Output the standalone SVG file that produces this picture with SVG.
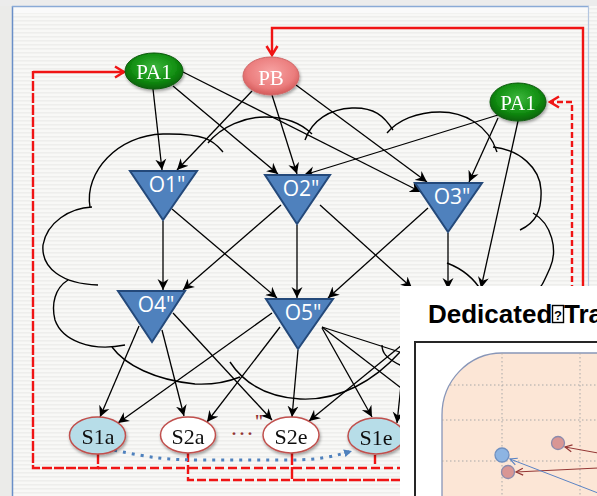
<svg xmlns="http://www.w3.org/2000/svg" width="597" height="496" viewBox="0 0 597 496">
<defs>
<style>
.lbl{font-family:"Liberation Serif","Times New Roman",serif;text-anchor:middle}
.olbl{font-family:"Open Sans","Liberation Sans",sans-serif;font-size:21px;fill:#fff;text-anchor:middle}
.tri{fill:#4f81bd;stroke:#24497a;stroke-width:2;stroke-linejoin:miter}
.snode{stroke:#c0504d;stroke-width:1.5}
.edge{fill:none;stroke:#000;stroke-width:1.3;marker-end:url(#ah)}
.cloud{fill:none;stroke:#000;stroke-width:1.4}
.red{fill:none;stroke:#f01414;stroke-width:2.4}
.grid{stroke:#a8a8a8;stroke-width:1;stroke-dasharray:1.5 2.5}
</style>
<pattern id="stripes" width="4" height="4" patternUnits="userSpaceOnUse">
<rect width="4" height="4" fill="#f8f8f6"/>
<rect width="4" height="1.6" fill="#eeeeec"/>
</pattern>
<radialGradient id="gGreen" cx="50%" cy="40%" r="60%">
<stop offset="0" stop-color="#3db53d"/>
<stop offset="0.6" stop-color="#149214"/>
<stop offset="1" stop-color="#056205"/>
</radialGradient>
<radialGradient id="gPink" cx="50%" cy="40%" r="60%">
<stop offset="0" stop-color="#f7a3a3"/>
<stop offset="0.7" stop-color="#eb7d7d"/>
<stop offset="1" stop-color="#d45a5a"/>
</radialGradient>
<filter id="sh" x="-30%" y="-30%" width="160%" height="170%">
<feDropShadow dx="1" dy="2" stdDeviation="1.5" flood-color="#000" flood-opacity="0.35"/>
</filter>
<marker id="ah" viewBox="0 -6 12 12" refX="11" refY="0" markerWidth="12" markerHeight="12" markerUnits="userSpaceOnUse" orient="auto">
<path d="M0,-5.5 L11,0 L0,5.5 L3.5,0 Z" fill="#000"/>
</marker>
<marker id="rah" viewBox="0 -7 12 14" refX="10" refY="0" markerWidth="12" markerHeight="14" markerUnits="userSpaceOnUse" orient="auto">
<path d="M1,-5.5 L10,0 L1,5.5" fill="none" stroke="#f01414" stroke-width="2.5"/>
</marker>
<marker id="bah" viewBox="0 -5 10 10" refX="8" refY="0" markerWidth="10" markerHeight="10" markerUnits="userSpaceOnUse" orient="auto">
<path d="M0,-4 L8,0 L0,4 Z" fill="#4f81bd"/>
</marker>
<marker id="drah" viewBox="0 -5 10 10" refX="8" refY="0" markerWidth="10" markerHeight="10" markerUnits="userSpaceOnUse" orient="auto">
<path d="M1,-3.5 L8,0 L1,3.5" fill="none" stroke="#943634" stroke-width="1.2"/>
</marker>
<marker id="sbah" viewBox="0 -5 10 10" refX="8" refY="0" markerWidth="10" markerHeight="10" markerUnits="userSpaceOnUse" orient="auto">
<path d="M1,-3.5 L8,0 L1,3.5" fill="none" stroke="#5b84c4" stroke-width="1.2"/>
</marker>
<clipPath id="peachClip">
<path d="M442,500 L442,415 A60,62 0 0 1 502,353 L600,353 L600,500 Z"/>
</clipPath>
</defs>

<!-- background -->
<rect width="597" height="496" fill="url(#stripes)"/>
<rect x="0" y="0" width="12" height="496" fill="#ebebe9"/>
<rect x="0" y="0" width="597" height="6" fill="#ececec"/>
<rect x="13" y="7" width="575" height="6" fill="#fafafa"/>
<line x1="12.5" y1="6" x2="12.5" y2="496" stroke="#6a8fc8" stroke-width="1.5"/>
<line x1="12" y1="6.5" x2="589" y2="6.5" stroke="#8aaad6" stroke-width="1.3"/>
<line x1="588.5" y1="6" x2="588.5" y2="496" stroke="#b4c6e0" stroke-width="1.2"/>

<!-- cloud -->
<g id="cloud">
<path class="cloud" d="M90,207 C84,172 118,135 163,134 S214,142 223,152"/>
<path class="cloud" d="M208,143 C222,126 245,117 265,117 S300,122 312,134"/>
<path class="cloud" d="M305,140 C312,120 330,109 352,108 S384,116 393,130"/>
<path class="cloud" d="M387,133 C398,120 417,112 440,112 S488,124 497,152"/>
<path class="cloud" d="M493,147 C520,150 540,168 541,190 S535,223 520,230"/>
<path class="cloud" d="M533,213 C552,224 558,250 550,268 S542,286 535,292"/>
<path class="cloud" d="M447,263 C460,268 473,276 482,292"/>
<path class="cloud" d="M92,207 C70,208 47,222 43,245 C41,268 62,284 98,285"/>
<path class="cloud" d="M68,280 C55,288 51,304 55,320 C62,340 90,352 125,345"/>
<path class="cloud" d="M112,347 C125,365 155,380 195,384 C215,385 230,381 240,377"/>
<path class="cloud" d="M230,362 C245,385 270,397 300,399 C340,401 375,380 400,352"/>
<path class="cloud" d="M382,345 C382,352 385,358 402,366"/>
</g>

<!-- connectors -->
<g id="connectors">
<path class="edge" d="M153,89 L162,170"/>
<path class="edge" d="M173,86 L278,174"/>
<path class="edge" d="M183,72 L421,192"/>
<path class="edge" d="M252,91 L177,170"/>
<path class="edge" d="M272,95 L297,174"/>
<path class="edge" d="M296,85 L427,182"/>
<path class="edge" d="M498,115 L304,175"/>
<path class="edge" d="M498,118 L469,182"/>
<path class="edge" d="M518,121 L481,288"/>
<path class="edge" d="M163,221 L163,290"/>
<path class="edge" d="M172,209 L277,298"/>
<path class="edge" d="M281,205 L183,290"/>
<path class="edge" d="M297,225 L297,298"/>
<path class="edge" d="M320,205 L412,288"/>
<path class="edge" d="M428,208 L328,298"/>
<path class="edge" d="M448,233 L448,289"/>
<path class="edge" d="M139,326 L100,417"/>
<path class="edge" d="M162,330 L184,416"/>
<path class="edge" d="M173,313 L272,420"/>
<path class="edge" d="M272,313 L118,423"/>
<path class="edge" d="M280,327 L207,422"/>
<path class="edge" d="M298,350 L292,417"/>
<path class="edge" d="M322,328 L372,417"/>
<path class="edge" d="M322,327 L440,365"/>
<path class="edge" d="M322,327 L440,418"/>
<path class="edge" d="M430,322 L309,421"/>
<path class="edge" d="M410,300 L397,423"/>

<!-- red feedback connectors -->
<path class="red" d="M583,300 L583,28 L272,28 L272,55" marker-end="url(#rah)"/>
<path class="red" d="M572,300 L572,102 L550,102" stroke-dasharray="6 3" marker-end="url(#rah)"/>
<path class="red" d="M98,454 L98,468 L33,468 L33,71" stroke-dasharray="10 2"/>
<path class="red" d="M33,72 L124,72" marker-end="url(#rah)"/>
<path class="red" d="M98,468 L600,468" stroke-dasharray="9 4"/>
<path class="red" d="M375,455 L375,468" stroke-dasharray="9 3"/>
<path class="red" d="M188,453 L188,480 L292,480" stroke-dasharray="9 3"/>
<path class="red" d="M292,453 L292,480 L600,480" stroke-dasharray="12 2"/>

<!-- blue dotted connector -->
<path d="M114,450 C150,458 170,460 200,460 L290,460 C320,460 335,456 352,451" fill="none" stroke="#4f81bd" stroke-width="3" stroke-dasharray="3 6" marker-end="url(#bah)"/>
</g>

<!-- top nodes -->
<g id="PA1_left" filter="url(#sh)">
<ellipse cx="154" cy="71" rx="29" ry="18" fill="url(#gGreen)" stroke="#0b5a0b" stroke-width="1"/>
<text class="lbl" x="154" y="79" font-size="21" fill="#fff">PA1</text>
</g>
<g id="PB" filter="url(#sh)">
<ellipse cx="271" cy="76" rx="28" ry="19" fill="url(#gPink)" stroke="#d06666" stroke-width="1"/>
<text class="lbl" x="271" y="85" font-size="21" fill="#fff">PB</text>
</g>
<g id="PA1_right" filter="url(#sh)">
<ellipse cx="518" cy="102" rx="28" ry="19" fill="url(#gGreen)" stroke="#0b5a0b" stroke-width="1"/>
<text class="lbl" x="518" y="110" font-size="21" fill="#fff">PA1</text>
</g>

<!-- O nodes -->
<g id="O1">
<polygon class="tri" points="130,171 197,171 163,220"/>
<text class="olbl" x="167" y="192">O1"</text>
</g>
<g id="O2">
<polygon class="tri" points="265,175 330,175 297,224"/>
<text class="olbl" x="301" y="196">O2"</text>
</g>
<g id="O3">
<polygon class="tri" points="415,183 482,183 448,232"/>
<text class="olbl" x="452" y="204">O3"</text>
</g>
<g id="O4">
<polygon class="tri" points="118,291 185,291 152,342"/>
<text class="olbl" x="156" y="312">O4"</text>
</g>
<g id="O5">
<polygon class="tri" points="266,299 333,299 298,349"/>
<text class="olbl" x="303" y="320">O5"</text>
</g>

<!-- S nodes -->
<g id="S1a" filter="url(#sh)">
<ellipse class="snode" cx="97.5" cy="435.5" rx="28" ry="18.5" fill="#b7dde8"/>
<text class="lbl" x="98" y="444" font-size="22" fill="#111">S1a</text>
</g>
<g id="S2a" filter="url(#sh)">
<ellipse class="snode" cx="188" cy="435" rx="27.5" ry="18" fill="#fff"/>
<text class="lbl" x="188" y="444" font-size="22" fill="#111">S2a</text>
</g>
<g id="dots">
<text class="lbl" x="242" y="441" font-size="24" fill="#943634">···</text>
<text class="lbl" x="259" y="428" font-size="18" font-weight="bold" fill="#943634">"</text>
</g>
<g id="S2e" filter="url(#sh)">
<ellipse class="snode" cx="291" cy="435" rx="28" ry="18" fill="#fff"/>
<text class="lbl" x="291" y="444" font-size="22" fill="#111">S2e</text>
</g>
<g id="S1e" filter="url(#sh)">
<ellipse class="snode" cx="376" cy="436" rx="28" ry="18" fill="#b7dde8"/>
<text class="lbl" x="376" y="445" font-size="22" fill="#111">S1e</text>
</g>

<!-- overlay slide -->
<g id="overlay">
<rect x="400" y="286" width="197" height="210" fill="#fff"/>
<text x="428" y="322.5" font-family="'Liberation Sans',Arial,sans-serif" font-weight="bold" font-size="26" fill="#000">Dedicated</text>
<rect x="552.5" y="305.5" width="11" height="17" fill="none" stroke="#000" stroke-width="1.4"/>
<text x="558" y="319.5" font-family="'Liberation Sans',Arial,sans-serif" font-weight="bold" font-size="13" fill="#000" text-anchor="middle">?</text>
<text x="564" y="322.5" font-family="'Liberation Sans',Arial,sans-serif" font-weight="bold" font-size="26" fill="#000">Tra</text>
<rect x="415" y="342" width="250" height="250" fill="#fff" stroke="#262626" stroke-width="2"/>
<path d="M442,500 L442,415 A60,62 0 0 1 502,353 L600,353 L600,500 Z" fill="#fce6d6" stroke="#8896b8" stroke-width="1.3"/>
<g clip-path="url(#peachClip)">
<line class="grid" x1="502" y1="353" x2="502" y2="496"/>
<line class="grid" x1="580" y1="353" x2="580" y2="496"/>
<line class="grid" x1="442" y1="385" x2="597" y2="385"/>
<line class="grid" x1="442" y1="420" x2="597" y2="420"/>
<line class="grid" x1="442" y1="461" x2="597" y2="461"/>
</g>
<line x1="598" y1="453" x2="565" y2="447" stroke="#943634" stroke-width="1" marker-end="url(#drah)"/>
<line x1="598" y1="468" x2="516" y2="472" stroke="#943634" stroke-width="1" marker-end="url(#drah)"/>
<line x1="598" y1="493" x2="510" y2="459" stroke="#5b84c4" stroke-width="1" marker-end="url(#sbah)"/>
<circle cx="558" cy="443" r="6.5" fill="#d99694" stroke="#8b8bad" stroke-width="1.3"/>
<circle cx="502" cy="455" r="7" fill="#8db4e2" stroke="#7090c0" stroke-width="1.3"/>
<circle cx="508" cy="472" r="6.5" fill="#d99694" stroke="#8b8bad" stroke-width="1.3"/>
</g>
</svg>
